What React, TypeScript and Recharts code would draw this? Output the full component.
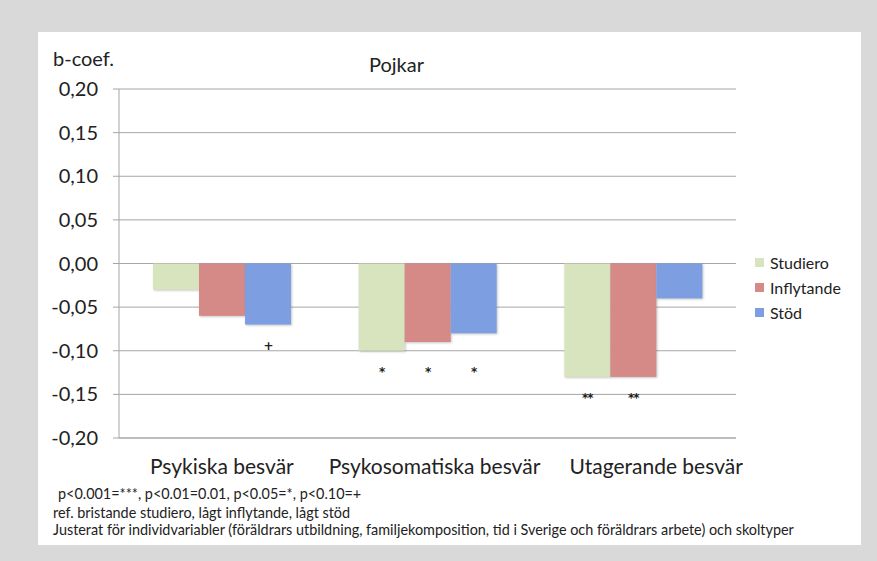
import React from "react";
import { BarChart, Bar, XAxis, YAxis, CartesianGrid, LabelList } from "recharts";

const categories = ["Psykiska besvär", "Psykosomatiska besvär", "Utagerande besvär"];
const studiero = [-0.03, -0.1, -0.13];
const inflytande = [-0.06, -0.09, -0.13];
const stod = [-0.07, -0.08, -0.04];
const studieroSig = ["", "*", "**"];
const inflytandeSig = ["", "*", "**"];
const stodSig = ["+", "*", ""];
const yTicks = [-0.2, -0.15, -0.1, -0.05, 0, 0.05, 0.1, 0.15, 0.2];
const seriesNames = ["Studiero", "Inflytande", "Stöd"];
const footnotes = [
  "p<0.001=***, p<0.01=0.01, p<0.05=*, p<0.10=+",
  "ref. bristande studiero, lågt inflytande, lågt stöd",
  "Justerat för individvariabler (föräldrars utbildning, familjekomposition, tid i Sverige och föräldrars arbete) och skoltyper",
];

const FONT = "Lato, Carlito, Calibri, sans-serif";
const GRID = "#a6a6a6";
const SERIES_COLORS = ["#d7e4bd", "#d58a88", "#7d9ee0"];
// Excel nudged the wider category labels to the right to keep them apart
const LABEL_NUDGE = [0, 7, 23];

const data = categories.map((name, i) => ({
  name,
  Studiero: studiero[i],
  Inflytande: inflytande[i],
  Stöd: stod[i],
  studieroSig: studieroSig[i],
  inflytandeSig: inflytandeSig[i],
  stodSig: stodSig[i],
}));

const fmt = (v: number) => {
  const s = v.toFixed(2).replace(".", ",");
  return s === "-0,00" ? "0,00" : s;
};

// marker sits below the lowest bar of its group, scaled from the bar's own geometry
const makeSig = (series: number[]) => (props: any) => {
  const vb = props.viewBox ?? props;
  const { x, y, width, height } = vb;
  const value = props.value;
  const i = props.index;
  if (!value || i == null) return null;
  const v = series[i];
  const h = Number(height);
  const zeroY = Math.min(y, y + h);
  const pxPerUnit = Math.abs(h) / Math.abs(v);
  const groupMin = Math.min(studiero[i], inflytande[i], stod[i]);
  const ty = zeroY + Math.abs(groupMin) * pxPerUnit + 25;
  return (
    <text
      x={x + width / 2}
      y={ty}
      textAnchor="middle"
      fontFamily="DejaVu Sans, sans-serif"
      fontSize={12}
      fontWeight="bold"
      letterSpacing={-1}
      fill="#222"
    >
      {value}
    </text>
  );
};

const ShadowBar = (props: any) => {
  const { x, y, width, height, fill } = props;
  const top = Math.min(y, y + height);
  const h = Math.abs(height);
  return (
    <rect
      x={x}
      y={top}
      width={width}
      height={h}
      fill={fill}
      style={{ filter: "drop-shadow(1px 1px 1px rgba(0,0,0,0.22))" }}
    />
  );
};

const YTick = (props: any) => {
  const { x, y, payload } = props;
  return (
    <text x={x} y={y} dy="0.35em" textAnchor="end" fontFamily={FONT} fontSize={20} fill="#222">
      {fmt(payload.value)}
    </text>
  );
};

const XTick = (props: any) => {
  const { x, y, payload, index } = props;
  return (
    <text
      x={x + (LABEL_NUDGE[index] ?? 0)}
      y={y + 36}
      textAnchor="middle"
      fontFamily={FONT}
      fontSize={21}
      fill="#222"
    >
      {payload.value}
    </text>
  );
};

export default function App() {
  return (
    <div
      style={{
        position: "absolute",
        left: 0,
        top: 0,
        width: 877,
        height: 561,
        background: "#d9d9d9",
        fontFamily: FONT,
        color: "#222",
      }}
    >
      <div
        style={{ position: "absolute", left: 38, top: 32, width: 823, height: 513, background: "#fff" }}
      />
      <div style={{ position: "absolute", left: 53, top: 46, fontSize: 20 }}>b-coef.</div>
      <div style={{ position: "absolute", left: 369, top: 52, fontSize: 20 }}>Pojkar</div>
      <div style={{ position: "absolute", left: 0, top: 0 }}>
        <BarChart
          width={877}
          height={561}
          data={data}
          barGap={0}
          margin={{ top: 89, right: 141, bottom: 73, left: 0 }}
        >
          <CartesianGrid horizontal vertical={false} stroke={GRID} />
          <XAxis
            dataKey="name"
            height={50}
            tickSize={0}
            tickMargin={0}
            tick={<XTick />}
            axisLine={{ stroke: GRID }}
            tickLine={false}
            interval={0}
          />
          <YAxis
            type="number"
            domain={[-0.2, 0.2]}
            ticks={yTicks}
            width={119}
            tickSize={6}
            tickMargin={15}
            tick={<YTick />}
            axisLine={{ stroke: GRID }}
            tickLine={{ stroke: GRID }}
          />
          <Bar dataKey="Studiero" fill={SERIES_COLORS[0]} barSize={46} shape={ShadowBar} isAnimationActive={false}>
            <LabelList dataKey="studieroSig" content={makeSig(studiero)} />
          </Bar>
          <Bar dataKey="Inflytande" fill={SERIES_COLORS[1]} barSize={46} shape={ShadowBar} isAnimationActive={false}>
            <LabelList dataKey="inflytandeSig" content={makeSig(inflytande)} />
          </Bar>
          <Bar dataKey="Stöd" fill={SERIES_COLORS[2]} barSize={46} shape={ShadowBar} isAnimationActive={false}>
            <LabelList dataKey="stodSig" content={makeSig(stod)} />
          </Bar>
        </BarChart>
      </div>
      <div style={{ position: "absolute", left: 755, top: 250, fontSize: 16 }}>
        {seriesNames.map((n, i) => (
          <div key={n} style={{ display: "flex", alignItems: "center", height: 25 }}>
            <span
              style={{ width: 9, height: 9, background: SERIES_COLORS[i], marginRight: 6, display: "inline-block" }}
            />
            {n}
          </div>
        ))}
      </div>
      <div style={{ position: "absolute", left: 58, top: 485, fontSize: 14.4, lineHeight: "17px" }}>
        {footnotes[0]}
      </div>
      <div style={{ position: "absolute", left: 53, top: 504, fontSize: 14.4, lineHeight: "17px" }}>
        {footnotes[1]}
      </div>
      <div style={{ position: "absolute", left: 53, top: 521, fontSize: 14.4, lineHeight: "17px" }}>
        {footnotes[2]}
      </div>
    </div>
  );
}
